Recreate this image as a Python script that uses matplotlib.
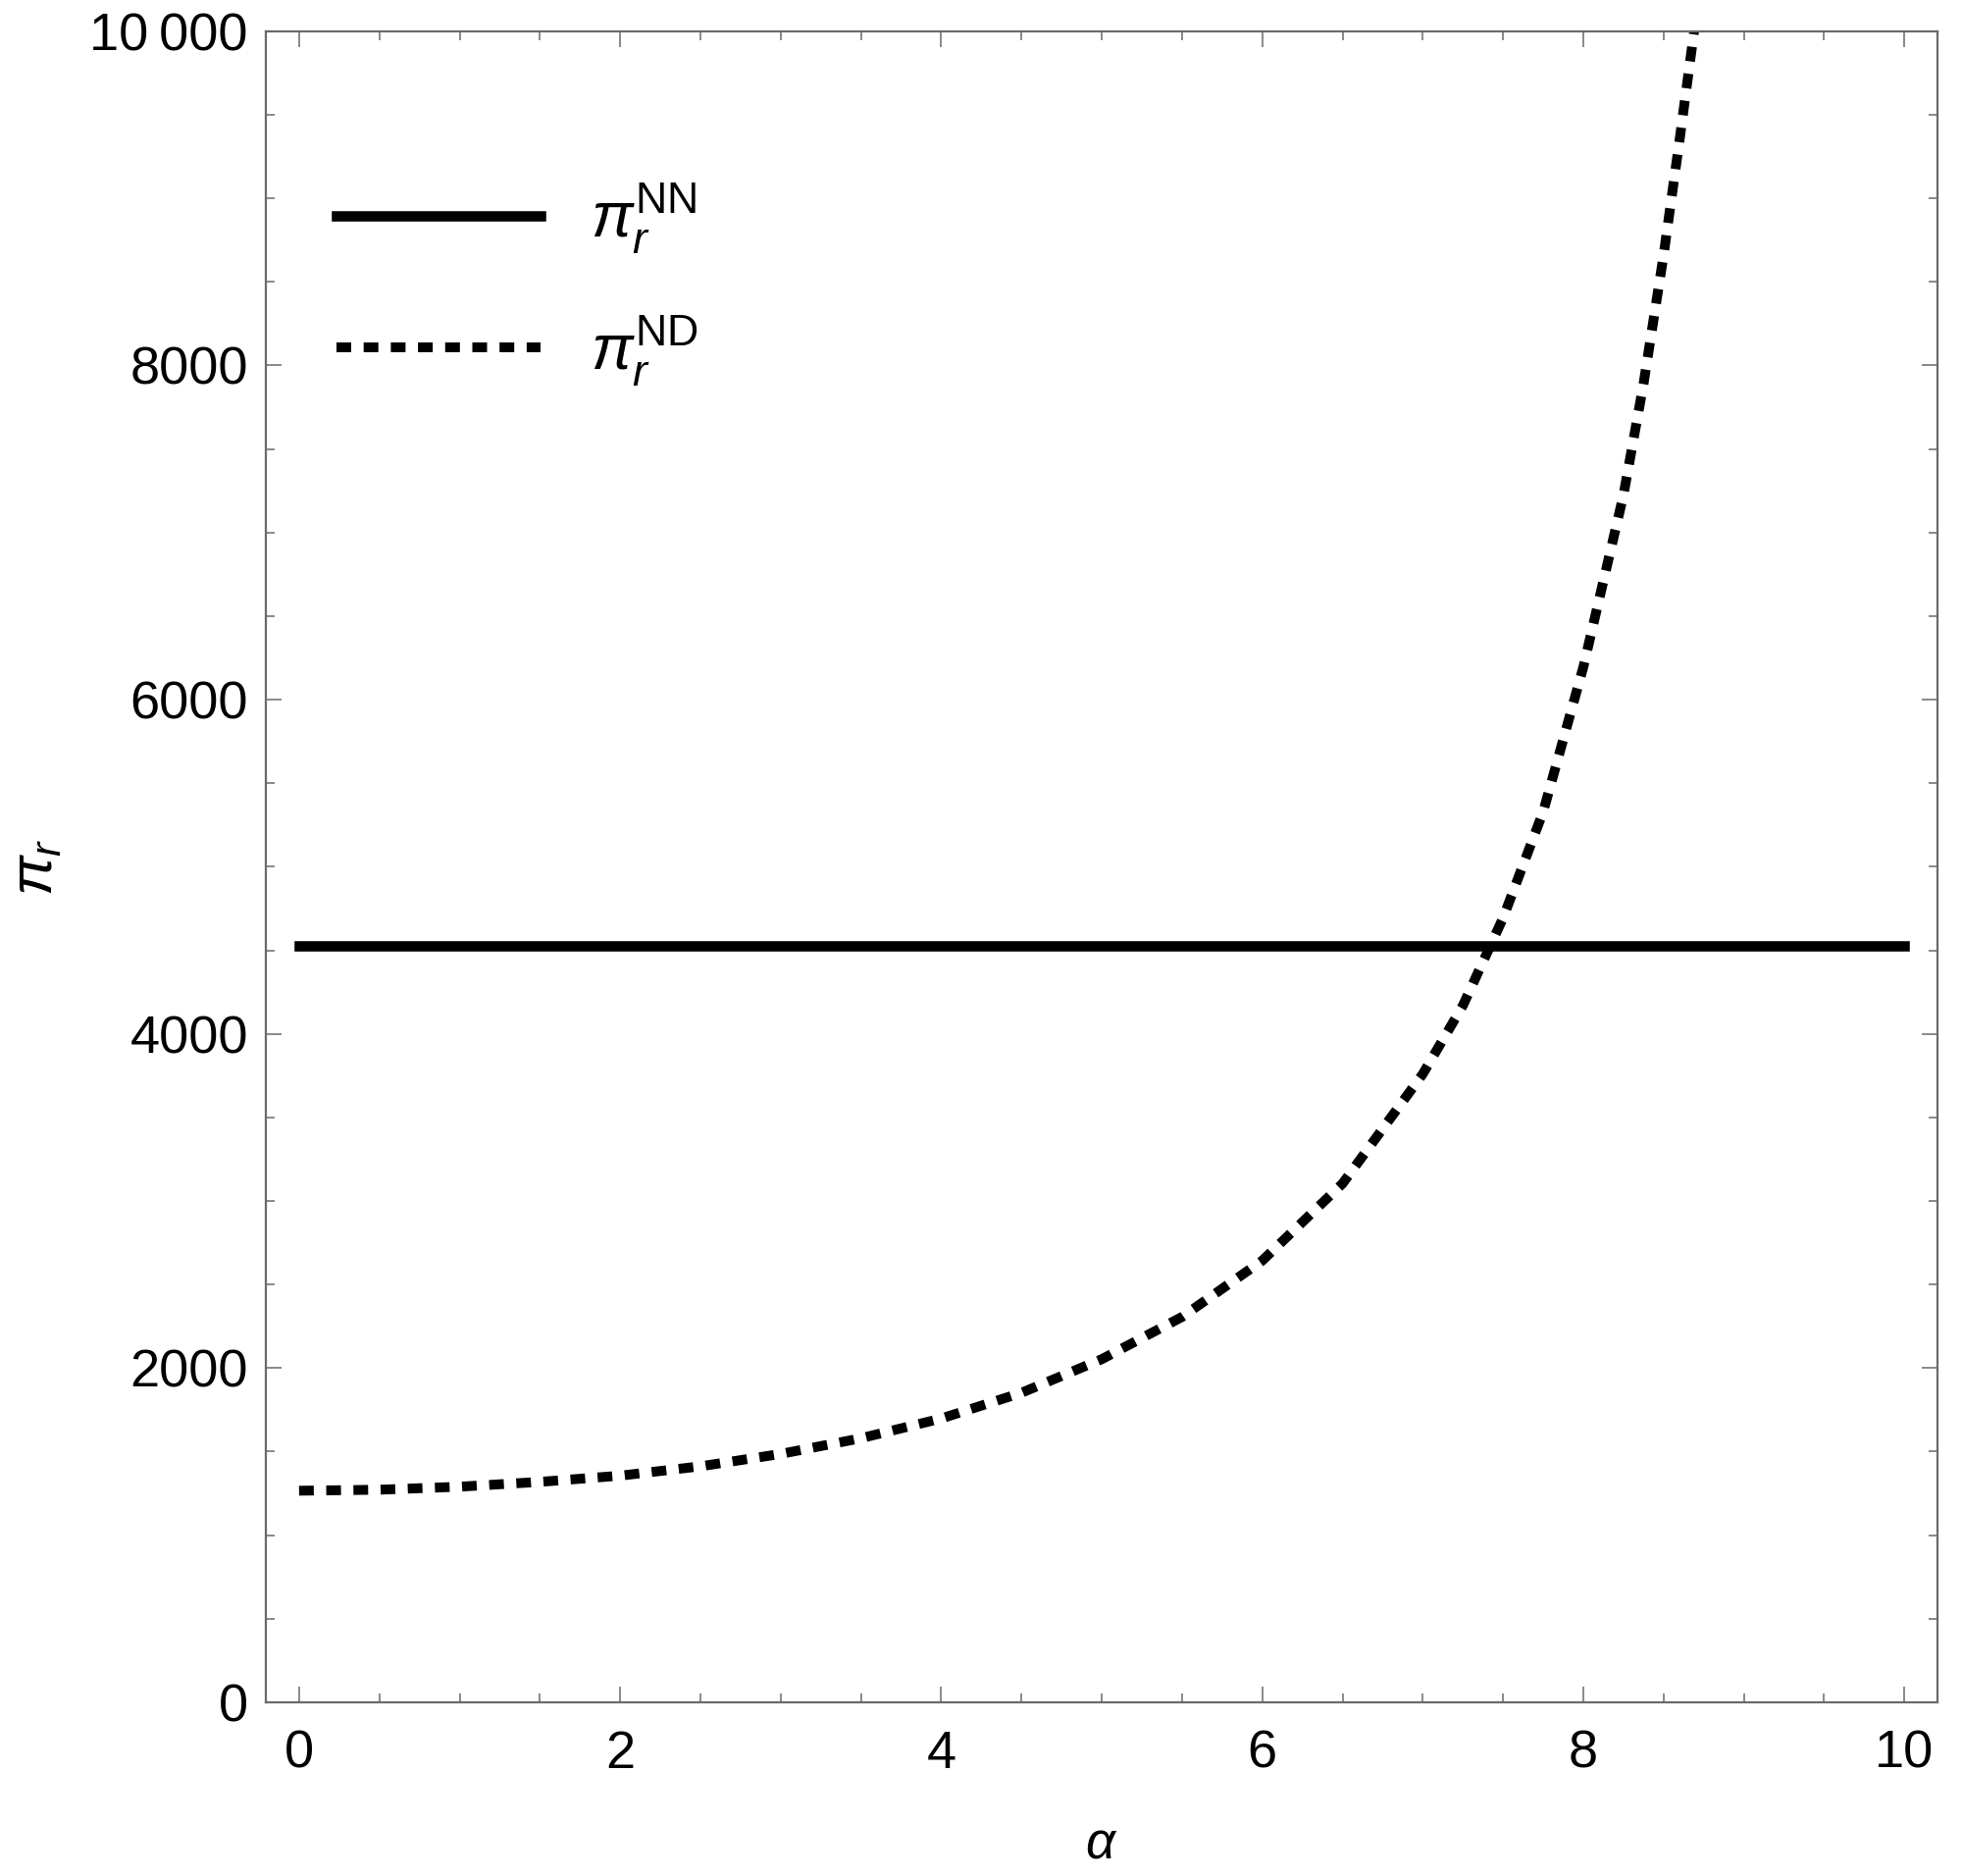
import matplotlib
matplotlib.use('Agg')
import matplotlib.pyplot as plt
from matplotlib.ticker import FixedLocator, FixedFormatter

# Fonts: Arial-like look for text and math
plt.rcParams['font.family'] = 'Liberation Sans'
plt.rcParams['mathtext.fontset'] = 'custom'
plt.rcParams['mathtext.rm'] = 'Liberation Sans'
plt.rcParams['mathtext.it'] = 'Liberation Sans:italic'

# pi_r^NN is flat in alpha
nn_alpha = [0, 10]
nn_profit = [4525, 4525]

# pi_r^ND
nd_alpha = [0, 0.5, 1.0, 1.5, 2.0, 2.5, 3.0, 3.5, 4.0, 4.5, 5.0, 5.5, 6.0,
            6.5, 7.0, 7.25, 7.5, 7.75, 8.0, 8.25, 8.375, 8.5, 8.6, 8.69]
nd_profit = [1266, 1272, 1290, 1319, 1356, 1412, 1486, 1580, 1698, 1852, 2053,
             2306, 2643, 3104, 3760, 4170, 4693, 5329, 6195, 7224, 7890, 8660,
             9353, 10000]

x_ticks = [0, 2, 4, 6, 8, 10]
y_ticks = [0, 2000, 4000, 6000, 8000, 10000]
y_tick_labels = ['0', '2000', '4000', '6000', '8000', '10\u2009000']
x_minor = [0.5, 1, 1.5, 2.5, 3, 3.5, 4.5, 5, 5.5, 6.5, 7, 7.5, 8.5, 9, 9.5]
y_minor = [500, 1000, 1500, 2500, 3000, 3500, 4500, 5000, 5500,
           6500, 7000, 7500, 8500, 9000, 9500]

frame_color = '#6a6a6a'

fig = plt.figure(figsize=(20, 19.12), dpi=100)
ax = fig.add_axes([0.1355, 0.0926, 0.852, 0.8908])

ax.plot(nn_alpha, nn_profit, color='black', lw=7.6, label=r'$\pi_r^{\mathrm{NN}}$')
ax.plot(nd_alpha, nd_profit, color='black', lw=7.2, linestyle=(0, (1.5, 1.27)),
        dash_capstyle='butt', label=r'$\pi_r^{\mathrm{ND}}$')

ax.set_xlim(-0.207, 10.206)
ax.set_ylim(0, 10000)

ax.xaxis.set_major_locator(FixedLocator(x_ticks))
ax.yaxis.set_major_locator(FixedLocator(y_ticks))
ax.yaxis.set_major_formatter(FixedFormatter(y_tick_labels))
ax.xaxis.set_minor_locator(FixedLocator(x_minor))
ax.yaxis.set_minor_locator(FixedLocator(y_minor))

for s in ax.spines.values():
    s.set_color(frame_color)
    s.set_linewidth(1.6)

ax.tick_params(which='both', direction='in', top=True, right=True,
               color=frame_color, width=1.1)
ax.tick_params(which='major', length=11.5, labelsize=39)
ax.tick_params(which='minor', length=6.5)
ax.tick_params(axis='x', which='major', pad=20)
ax.tick_params(axis='y', which='major', pad=13)

ax.set_xlabel(r'$\alpha$', fontsize=38, labelpad=30)
ax.set_ylabel(r'$\pi_r$', fontsize=44, labelpad=18)

leg = ax.legend(loc='upper left', bbox_to_anchor=(0.0423, 0.91), frameon=False,
                fontsize=46, handlelength=3.25, handletextpad=0.8,
                labelspacing=0.91, borderpad=0, borderaxespad=0)

fig.savefig('out.png', dpi=100)
